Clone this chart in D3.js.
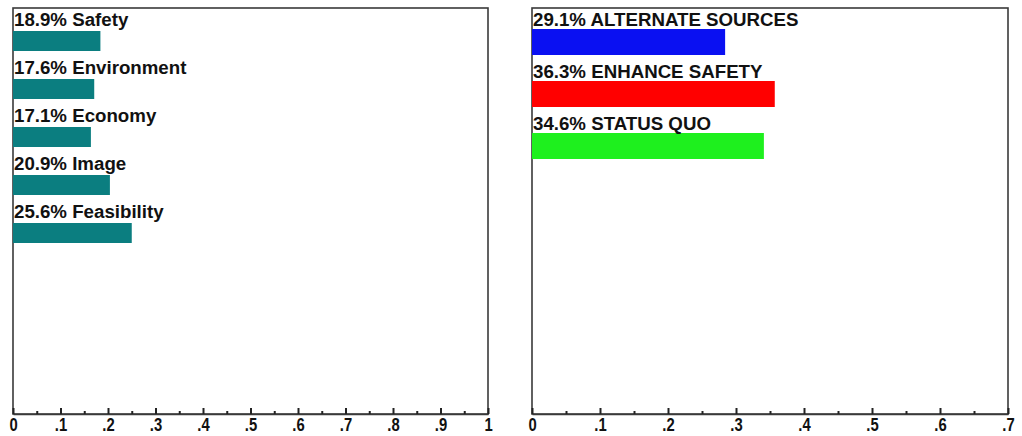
<!DOCTYPE html>
<html><head><meta charset="utf-8">
<script src="https://cdn.jsdelivr.net/npm/d3@7"></script>
<style>body{margin:0;background:#fff}svg{display:block}</style>
</head><body>
<script>
const leftCategories = ["Safety","Environment","Economy","Image","Feasibility"];
const leftLabels = ["18.9%","17.6%","17.1%","20.9%","25.6%"];
const leftValues = [0.184,0.171,0.164,0.204,0.250];
const leftTicks = [0,0.1,0.2,0.3,0.4,0.5,0.6,0.7,0.8,0.9,1];
const leftMinorTicks = [0.05,0.15,0.25,0.35,0.45,0.55,0.65,0.75,0.85,0.95];

const rightCategories = ["ALTERNATE SOURCES","ENHANCE SAFETY","STATUS QUO"];
const rightLabels = ["29.1%","36.3%","34.6%"];
const rightValues = [0.284,0.357,0.341];
const rightColors = ["#0a10f2","#ff0000","#1ef01e"];
const rightTicks = [0,0.1,0.2,0.3,0.4,0.5,0.6,0.7];
const rightMinorTicks = [0.05,0.15,0.25,0.35,0.45,0.55,0.65];

const W=1022,H=436;
const svg=d3.select("body").append("svg").attr("width",W).attr("height",H);
const FONT="'Liberation Sans', Arial, sans-serif";
const fmt = d => { const s=d3.format(".1~f")(d); return s.replace(/^0(?=\.)/,""); };

function panel(cfg){
  const top=8,bottom=414;
  const x=d3.scaleLinear().domain(cfg.domain).range([cfg.x0,cfg.x1]);
  const y=d3.scaleBand().domain(cfg.cats).range([cfg.bandStart,cfg.bandStart+cfg.step*cfg.cats.length]);
  const g=svg.append("g");
  g.append("rect").attr("x",cfg.x0).attr("y",top).attr("width",cfg.x1-cfg.x0).attr("height",bottom-top)
    .attr("fill","none").attr("stroke","#3a3a3a").attr("stroke-width",1.6);
  g.selectAll("rect.bar").data(cfg.cats).join("rect").attr("class","bar")
    .attr("x",x(0)).attr("y",d=>y(d)+cfg.barOff).attr("height",cfg.barH)
    .attr("width",(d,i)=>x(cfg.values[i])-x(0))
    .attr("fill",(d,i)=>cfg.colors[i]);
  g.selectAll("text.lab").data(cfg.cats).join("text").attr("class","lab")
    .attr("x",x(0)+1).attr("y",d=>y(d)+cfg.textOff)
    .attr("font-family",FONT).attr("font-weight","bold").attr("font-size",cfg.fs).attr("fill","#111")
    .text((d,i)=>cfg.labels[i]+" "+d);
  const ax=g.append("g").attr("transform",`translate(0,${bottom})`)
    .call(d3.axisBottom(x).tickValues(cfg.ticks).tickFormat(fmt).tickSizeInner(-6).tickSizeOuter(0).tickPadding(4));
  ax.select(".domain").attr("stroke","#3a3a3a").attr("stroke-width",1.6);
  ax.selectAll(".tick line").attr("stroke","#222").attr("stroke-width",2);
  ax.selectAll(".tick text").attr("font-family",FONT).attr("font-weight","bold").attr("font-size",19)
    .attr("fill","#111").attr("transform","scale(0.78,1)");
  const mn=g.append("g").attr("transform",`translate(0,${bottom})`)
    .call(d3.axisBottom(x).tickValues(cfg.minor).tickFormat("").tickSizeInner(-3).tickSizeOuter(0));
  mn.select(".domain").remove();
  mn.selectAll(".tick line").attr("stroke","#222").attr("stroke-width",2);
}

panel({domain:[0,1],x0:13,x1:488,cats:leftCategories,labels:leftLabels,values:leftValues,
  colors:leftCategories.map(()=>"#0b7e80"),ticks:leftTicks,minor:leftMinorTicks,
  bandStart:7,step:48,barOff:24,barH:20,textOff:19,fs:18.7});
panel({domain:[0,0.7],x0:532,x1:1008,cats:rightCategories,labels:rightLabels,values:rightValues,
  colors:rightColors,ticks:rightTicks,minor:rightMinorTicks,
  bandStart:3,step:52,barOff:26,barH:26,textOff:23,fs:18.7});
</script>
</body></html>
